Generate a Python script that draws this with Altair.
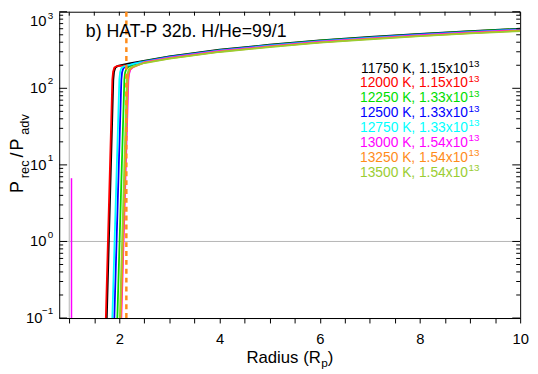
import altair as alt
import pandas as pd

# ---------------- data ----------------
temps = [11750, 12000, 12250, 12500, 12750, 13000, 13250, 13500]
coeffs = ["1.15", "1.15", "1.33", "1.33", "1.33", "1.54", "1.54", "1.54"]
exponent = "13"
colors = ["#000000", "#ff0000", "#00dd00", "#0000ff", "#00ffff", "#ff00ff", "#ff8c1a", "#9acd32"]

r_11750 = [1.75, 1.88, 1.895, 1.92, 1.97, 2.2, 3, 4, 5, 6, 7, 8, 9, 10]
p_11750 = [0.1, 130, 165, 186, 196, 211, 262, 319, 371, 422, 469, 515, 558, 600]
r_12000 = [1.73, 1.86, 1.875, 1.90, 1.95, 2.2, 3, 4, 5, 6, 7, 8, 9, 10]
p_12000 = [0.1, 130, 165, 186, 195, 201, 249, 304, 353, 402, 446, 490, 531, 571]
r_12250 = [1.96, 2.10, 2.115, 2.14, 2.19, 2.4, 3, 4, 5, 6, 7, 8, 9, 10]
p_12250 = [0.1, 130, 160, 180, 192, 220, 259, 316, 367, 418, 464, 510, 553, 595]
r_12500 = [1.90, 2.04, 2.055, 2.08, 2.13, 2.3, 3, 4, 5, 6, 7, 8, 9, 10]
p_12500 = [0.1, 130, 162, 183, 193, 212, 257, 313, 364, 414, 460, 505, 547, 589]
r_12750 = [1.86, 2.00, 2.015, 2.04, 2.09, 2.3, 3, 4, 5, 6, 7, 8, 9, 10]
p_12750 = [0.1, 130, 163, 184, 194, 210, 254, 310, 360, 410, 455, 500, 542, 583]
r_13000 = [2.04, 2.18, 2.195, 2.22, 2.27, 2.5, 3, 4, 5, 6, 7, 8, 9, 10]
p_13000 = [0.1, 125, 155, 175, 188, 220, 251, 307, 356, 406, 450, 495, 537, 577]
r_13250 = [2.03, 2.17, 2.185, 2.21, 2.26, 2.5, 3, 4, 5, 6, 7, 8, 9, 10]
p_13250 = [0.1, 125, 155, 176, 188, 216, 246, 301, 349, 398, 441, 485, 526, 566]
r_13500 = [2.01, 2.15, 2.165, 2.19, 2.24, 2.5, 3, 4, 5, 6, 7, 8, 9, 10]
p_13500 = [0.1, 127, 158, 178, 190, 214, 244, 298, 346, 394, 437, 480, 520, 560]

radii = [r_11750, r_12000, r_12250, r_12500, r_12750, r_13000, r_13250, r_13500]
ratios = [p_11750, p_12000, p_12250, p_12500, p_12750, p_13000, p_13250, p_13500]

x_ticks = [1.0, 1.5, 2.0, 2.5, 3.0, 3.5, 4.0, 4.5, 5.0, 5.5, 6.0, 6.5, 7.0, 7.5,
           8.0, 8.5, 9.0, 9.5, 10.0]
y_major = [0.1, 1, 10, 100, 1000]
y_exps = ["\u22121", "0", "1", "2", "3"]
y_minor = [0.2, 0.3, 0.4, 0.5, 0.6, 0.7, 0.8, 0.9,
           2, 3, 4, 5, 6, 7, 8, 9,
           20, 30, 40, 50, 60, 70, 80, 90,
           200, 300, 400, 500, 600, 700, 800, 900]

unity_level = 1.0
inner_radius = 1.0
magenta_x = 1.045
magenta_top = 6.7
dashed_x = 2.14

title_text = "b) HAT-P 32b. H/He=99/1"

# ---------------- layout ----------------
W, H = 468, 311
FONT = "Liberation Sans"

xscale = alt.Scale(domain=[0.8, 10], nice=False, zero=False)
yscale = alt.Scale(type="log", domain=[0.1, 1000], nice=False)
xaxis = alt.Axis(values=x_ticks,
                 labelExpr="datum.value % 2 == 0 ? format(datum.value, 'd') : ''",
                 tickSize=5, tickColor="black", domainColor="black", tickWidth=1,
                 labelFontSize=15, labelColor="black", labelFont=FONT, labelPadding=9,
                 labelFlush=False, labelOverlap=False, grid=False, title=None)

rows = []
for k, (t, rr, pp) in enumerate(zip(temps, radii, ratios)):
    for i, (r, p) in enumerate(zip(rr, pp)):
        rows.append({"series": f"{t} K", "k": k, "i": i, "r": r, "ratio": p})
df = pd.DataFrame(rows)
labels = [f"{t} K" for t in temps]

X = lambda f: alt.X(f, scale=xscale, axis=xaxis)
Y = lambda f: alt.Y(f, scale=yscale, axis=None)

layers = []

# grey reference lines
layers.append(alt.Chart(pd.DataFrame({"v": [unity_level]})).mark_rule(color="#b4b4b4", strokeWidth=1)
              .encode(y=Y("v:Q"), x=alt.value(0), x2=alt.value(W)))
layers.append(alt.Chart(pd.DataFrame({"v": [inner_radius]})).mark_rule(color="#b4b4b4", strokeWidth=1)
              .encode(x=X("v:Q"), y=alt.value(0), y2=alt.value(H)))
layers.append(alt.Chart(pd.DataFrame({"v": [magenta_x], "a": [0.1], "b": [magenta_top]}))
              .mark_rule(color="#ff00ff", strokeWidth=1.5)
              .encode(x=X("v:Q"), y=Y("a:Q"), y2=alt.Y2("b:Q")))

# curves
layers.append(alt.Chart(df).mark_line(strokeWidth=1.8, clip=True).encode(
    x=X("r:Q"), y=Y("ratio:Q"),
    color=alt.Color("series:N", scale=alt.Scale(domain=labels, range=colors), legend=None),
    detail="k:N", order="i:Q"))

# dashed orange line
layers.append(alt.Chart(pd.DataFrame({"v": [dashed_x], "a": [0.1], "b": [1000]}))
              .mark_rule(color="#ff8c1a", strokeWidth=2.5, strokeDash=[5, 4])
              .encode(x=X("v:Q"), y=Y("a:Q"), y2=alt.Y2("b:Q")))

# inward ticks: left / right / top
for vals, ln in [(y_major, 8), (y_minor, 4)]:
    d = pd.DataFrame({"v": vals})
    layers.append(alt.Chart(d).mark_rule(color="black", strokeWidth=1)
                  .encode(y=Y("v:Q"), x=alt.value(0), x2=alt.value(ln)))
    layers.append(alt.Chart(d).mark_rule(color="black", strokeWidth=1)
                  .encode(y=Y("v:Q"), x=alt.value(W - ln), x2=alt.value(W)))
layers.append(alt.Chart(pd.DataFrame({"v": x_ticks})).mark_rule(color="black", strokeWidth=1)
              .encode(x=X("v:Q"), y=alt.value(0), y2=alt.value(4)))

# y tick labels 10^n
ylab = pd.DataFrame({"v": y_major, "e": y_exps})
for cond, xpos in [("datum.e == '\u22121'", -17), ("datum.e != '\u22121' && datum.v < 1000", -13)]:
    layers.append(alt.Chart(ylab).transform_filter(cond)
                  .mark_text(align="right", baseline="middle", fontSize=15, font=FONT, color="black")
                  .encode(y=Y("v:Q"), x=alt.value(xpos), text=alt.value("10")))
layers.append(alt.Chart(ylab).transform_filter("datum.v < 1000")
              .mark_text(align="right", baseline="middle", fontSize=10, font=FONT, color="black", dy=-7)
              .encode(y=Y("v:Q"), x=alt.value(-6), text="e:N"))
# top label nudged inside the canvas
top = pd.DataFrame({"v": [1000], "e": ["3"]})
layers.append(alt.Chart(top).mark_text(align="right", baseline="middle", fontSize=15, font=FONT,
                                       color="black", dy=9)
              .encode(y=Y("v:Q"), x=alt.value(-13), text=alt.value("10")))
layers.append(alt.Chart(top).mark_text(align="right", baseline="middle", fontSize=10, font=FONT,
                                       color="black", dy=4)
              .encode(y=Y("v:Q"), x=alt.value(-6), text="e:N"))

one = pd.DataFrame({"a": [0]})

def txt(s, x, y, size, color="black", align="left", angle=0):
    kw = dict(align=align, baseline="alphabetic", fontSize=size, font=FONT, color=color)
    if angle:
        kw["angle"] = angle
    return alt.Chart(one).mark_text(**kw).encode(x=alt.value(x), y=alt.value(y), text=alt.value(s))

# title inside plot
layers.append(txt(title_text, 27, 26, 18))

# legend text
for k, (t, c, col) in enumerate(zip(temps, coeffs, colors)):
    yb = 61.7 + 15.1 * k
    layers.append(txt(f"{t} K, {c}x10", 415, yb, 14, col, align="right"))
    layers.append(txt(exponent, 415.5, yb - 5.7, 10, col))

# x axis title: Radius (R_p)
layers.append(txt("Radius (R", 265.6, 357, 17, align="right"))
layers.append(txt("p", 266, 361, 12))
layers.append(txt(")", 272.6, 357, 17))

# y axis title: P_rec/P_adv (rotated)
layers.append(txt("P", -37, 184, 18, angle=270))
layers.append(txt("rec", -31, 169, 13, angle=270))
layers.append(txt("/", -37, 148, 18, angle=270))
layers.append(txt("P", -37, 141, 18, angle=270))
layers.append(txt("adv", -31, 125, 13, angle=270))

chart = alt.layer(*layers).properties(
    width=W, height=H, autosize="none",
    padding={"left": 52, "top": 1, "right": 10, "bottom": 52},
).configure_view(stroke="black", strokeWidth=1)

chart.save("out.html", embed_options={"renderer": "svg", "actions": False})
